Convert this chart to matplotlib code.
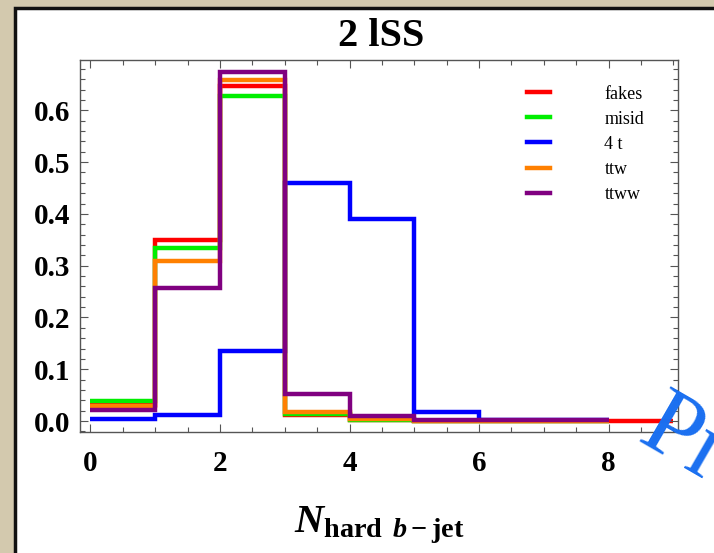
import matplotlib
matplotlib.use("Agg")
import matplotlib.pyplot as plt
from matplotlib.patches import Rectangle
from matplotlib.ticker import MultipleLocator
import numpy as np

# bin edges: number of hard b-jets
edges = np.arange(0, 10)

# normalized distributions
fakes = [0.032, 0.349, 0.647, 0.012, 0.002, 0.001, 0.001, 0.001, 0.000]
misid = [0.038, 0.335, 0.627, 0.013, 0.002, 0.001, 0.001, 0.001]
four_t = [0.004, 0.012, 0.135, 0.460, 0.391, 0.017, 0.003, 0.002]
ttw = [0.030, 0.309, 0.658, 0.017, 0.004, 0.001, 0.001, 0.001]
ttww = [0.021, 0.257, 0.674, 0.053, 0.009, 0.002, 0.002, 0.002]

labels = ["fakes", "misid", "4 t", "ttw", "ttww"]
colors = ["#ff0000", "#00ee00", "#0000ff", "#ff8000", "#800080"]

plt.rcParams["font.family"] = ["Liberation Serif", "DejaVu Serif"]
plt.rcParams["mathtext.fontset"] = "custom"
plt.rcParams["mathtext.rm"] = "Liberation Serif:bold"
plt.rcParams["mathtext.bf"] = "Liberation Serif:bold"
plt.rcParams["mathtext.it"] = "Liberation Serif:italic:bold"

fig = plt.figure(figsize=(7.14, 5.53), dpi=100)
fig.patch.set_facecolor("#d3c9ae")

# white slide panel with dark border
panel = Rectangle((15 / 714, -0.05), 1.1, 1 - 8 / 553 + 0.05,
                  transform=fig.transFigure, facecolor="white",
                  edgecolor="#111111", linewidth=2.5, zorder=-5)
fig.patches.append(panel)

ax = fig.add_axes([80 / 714, 121 / 553, 598 / 714, 372 / 553])
ax.set_zorder(2)
ax.set_facecolor("white")

series = [fakes, misid, four_t, ttw, ttww]
for vals, lab, col in zip(series, labels, colors):
    ax.stairs(vals, edges[:len(vals) + 1], baseline=None, color=col,
              linewidth=3.2, label=lab)

ax.set_xlim(-0.16, 9.07)
ax.set_ylim(-0.021, 0.697)

ax.xaxis.set_major_locator(MultipleLocator(2))
ax.xaxis.set_minor_locator(MultipleLocator(0.5))
ax.yaxis.set_major_locator(MultipleLocator(0.1))
ax.yaxis.set_minor_locator(MultipleLocator(0.02))
ax.yaxis.set_major_formatter(plt.FuncFormatter(lambda v, p: f"{v:.1f}"))

ax.tick_params(which="both", direction="in", top=True, right=True,
               color="#555555", width=0.8)
ax.tick_params(which="major", length=6)
ax.tick_params(which="minor", length=3.5)
ax.tick_params(axis="x", which="major", labelsize=21, pad=13)
ax.tick_params(axis="y", which="major", labelsize=21, pad=7)
for t in ax.get_xticklabels() + ax.get_yticklabels():
    t.set_fontweight("bold")
for s in ax.spines.values():
    s.set_color("#555555")
    s.set_linewidth(1.0)

ax.set_xlabel(r"$N_{\mathrm{hard}\ \,b-\mathrm{jet}}$", fontsize=29, labelpad=20)

fig.text(381 / 714, 1 - 37 / 553, "2 lSS", ha="center", va="center",
         fontsize=29, fontweight="bold")

leg = ax.legend(loc="upper left", bbox_to_anchor=(0.72, 0.975), frameon=False,
                fontsize=13, handlelength=1.3, handletextpad=3.0,
                labelspacing=0.45)

t = fig.text(635 / 714, 1 - 441 / 553, "Pre", color="#1a6ff0", fontsize=70,
             rotation=-30, rotation_mode="anchor", ha="left", va="baseline",
             fontfamily="Liberation Serif")
t.set_zorder(5)

fig.savefig("out.png", dpi=100, facecolor=fig.get_facecolor())
